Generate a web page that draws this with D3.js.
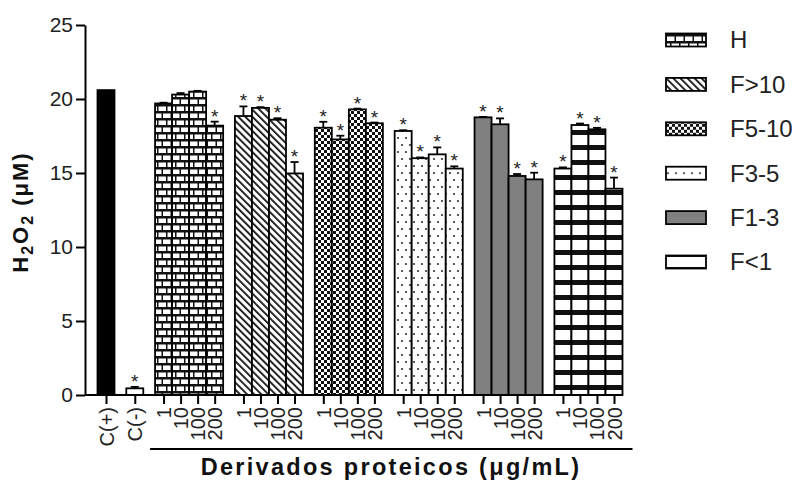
<!DOCTYPE html>
<html>
<head>
<meta charset="utf-8">
<script src="https://cdn.jsdelivr.net/npm/d3@7"></script>
<style>
	body{margin:0;background:#fff;}
	svg{display:block;font-family:"Liberation Sans", Arial, sans-serif;}
</style>
</head>
<body>
<svg id="chart" width="801" height="481"></svg>
<script>
// controls
var controls = ["C(+)", "C(-)"];
var controlValues = [20.6, 0.45];
var controlErrors = [0, 0.1];
var controlStars = [0, 1];

// protein derivatives, one array per fraction (1, 10, 100, 200 ug/mL)
var groups = ["H", "F>10", "F5-10", "F3-5", "F1-3", "F<1"];
var concentrations = ["1", "10", "100", "200"];
var valuesH = [19.7, 20.3, 20.5, 18.2];
var valuesF10 = [18.85, 19.4, 18.6, 14.97];
var valuesF5_10 = [18.06, 17.27, 19.3, 18.36];
var valuesF3_5 = [17.84, 16.0, 16.26, 15.3];
var valuesF1_3 = [18.76, 18.29, 14.8, 14.57];
var valuesF1 = [15.3, 18.24, 17.95, 13.94];
var errorsH = [0.05, 0.1, 0.05, 0.27];
var errorsF10 = [0.65, 0.05, 0.1, 0.77];
var errorsF5_10 = [0.4, 0.25, 0.05, 0.05];
var errorsF3_5 = [0.05, 0.05, 0.47, 0.15];
var errorsF1_3 = [0.03, 0.4, 0.13, 0.45];
var errorsF1 = [0.08, 0.1, 0.1, 0.75];
var starsH = [0, 0, 0, 1];
var starsF10 = [1, 1, 1, 1];
var starsF5_10 = [1, 1, 1, 1];
var starsF3_5 = [1, 1, 1, 1];
var starsF1_3 = [1, 1, 1, 1];
var starsF1 = [1, 1, 1, 1];
var yTicks = [0, 5, 10, 15, 20, 25];

var groupValues = [valuesH, valuesF10, valuesF5_10, valuesF3_5, valuesF1_3, valuesF1];
var groupErrors = [errorsH, errorsF10, errorsF5_10, errorsF3_5, errorsF1_3, errorsF1];
var groupStars = [starsH, starsF10, starsF5_10, starsF3_5, starsF1_3, starsF1];

var svg = d3.select("#chart");
var defs = svg.append("defs");

function pattern(id, w, h){
	var p = defs.append("pattern")
		.attr("id", id)
		.attr("patternUnits", "userSpaceOnUse")
		.attr("width", w)
		.attr("height", h);
	return p;
}

// H: bricks
var pH = pattern("pH", 18, 14);
pH.append("rect").attr("width", 18).attr("height", 14).attr("fill", "#111");
[[1,1.5],[10,1.5],[-3.5,8.5],[5.5,8.5],[14.5,8.5]].forEach(function(b){
	pH.append("rect").attr("x", b[0]).attr("y", b[1]).attr("width", 7.5).attr("height", 4.5).attr("fill", "#fff");
});
// F>10: diagonal lines
var pD = pattern("pD", 5, 10).attr("patternTransform", "rotate(-45)");
pD.append("rect").attr("width", 5).attr("height", 10).attr("fill", "#fff");
pD.append("rect").attr("width", 1.8).attr("height", 10).attr("fill", "#111");
// F5-10: checkerboard
var pC = pattern("pC", 6, 6);
pC.append("rect").attr("width", 6).attr("height", 6).attr("fill", "#fff");
pC.append("rect").attr("width", 3).attr("height", 3).attr("fill", "#111");
pC.append("rect").attr("x", 3).attr("y", 3).attr("width", 3).attr("height", 3).attr("fill", "#111");
// F3-5: dots
var pS = pattern("pS", 8, 14);
pS.append("rect").attr("width", 8).attr("height", 14).attr("fill", "#fff");
pS.append("circle").attr("cx", 2).attr("cy", 5).attr("r", 1.1).attr("fill", "#333");
pS.append("circle").attr("cx", 6).attr("cy", 12).attr("r", 1.1).attr("fill", "#333");
// F<1: horizontal bands
var pB = pattern("pB", 20, 15);
pB.append("rect").attr("width", 20).attr("height", 15).attr("fill", "#fff");
pB.append("rect").attr("y", 10).attr("width", 20).attr("height", 5).attr("fill", "#111");

var groupFills = ["url(#pH)", "url(#pD)", "url(#pC)", "url(#pS)", "#808080", "url(#pB)"];
var controlFills = ["#000", "#fff"];

// flatten into one list of bars
var GAP = 0.69;
var bars = [];
controls.forEach(function(c, i){
	bars.push({label: c, value: controlValues[i], err: controlErrors[i], star: controlStars[i], block: i, fill: controlFills[i]});
});
groups.forEach(function(g, gi){
	concentrations.forEach(function(c, ci){
		bars.push({label: c, value: groupValues[gi][ci], err: groupErrors[gi][ci], star: groupStars[gi][ci], block: 2 + gi, fill: groupFills[gi]});
	});
});
bars.forEach(function(d, i){ d.slot = i + GAP * d.block; });

var BW = 17;
var maxSlot = d3.max(bars, function(d){ return d.slot; });
var x = d3.scaleLinear()
	.domain([0, maxSlot])
	.range([106, 614]);
var y = d3.scaleLinear()
	.domain([0, 25])
	.range([395, 25]);
var axisX = 85;

// bars
svg.append("g").selectAll("rect")
	.data(bars)
	.enter()
	.append("rect")
	.attr("x", function(d){ return x(d.slot) - BW / 2; })
	.attr("y", function(d){ return y(d.value); })
	.attr("width", BW)
	.attr("height", function(d){ return y(0) - y(d.value); })
	.attr("fill", function(d){ return d.fill; })
	.attr("stroke", "#000")
	.attr("stroke-width", 1.8);

// error bars
var errs = svg.append("g").selectAll("g")
	.data(bars.filter(function(d){ return d.err > 0; }))
	.enter()
	.append("g")
	.attr("stroke", "#000")
	.attr("stroke-width", 1.8);
errs.append("line")
	.attr("x1", function(d){ return x(d.slot); })
	.attr("x2", function(d){ return x(d.slot); })
	.attr("y1", function(d){ return y(d.value); })
	.attr("y2", function(d){ return y(d.value + d.err); });
errs.append("line")
	.attr("x1", function(d){ return x(d.slot) - 4; })
	.attr("x2", function(d){ return x(d.slot) + 4; })
	.attr("y1", function(d){ return y(d.value + d.err); })
	.attr("y2", function(d){ return y(d.value + d.err); });

// significance stars
svg.append("g").selectAll("text")
	.data(bars.filter(function(d){ return d.star; }))
	.enter()
	.append("text")
	.attr("x", function(d){ return x(d.slot); })
	.attr("y", function(d){ return y(d.value + d.err) + 1; })
	.attr("text-anchor", "middle")
	.attr("font-size", 19)
	.attr("fill", "#222")
	.text("*");

// y axis
var yAxis = svg.append("g")
	.attr("transform", "translate(" + axisX + ",0)")
	.call(d3.axisLeft(y).tickValues(yTicks).tickSize(9).tickSizeOuter(0).tickPadding(3));
yAxis.select(".domain").attr("stroke-width", 2);
yAxis.selectAll(".tick line").attr("stroke-width", 2);
yAxis.selectAll(".tick text").attr("font-size", 21).attr("fill", "#222").attr("font-family", null);

// x axis
var xo = d3.scaleOrdinal()
	.domain(bars.map(function(d, i){ return i; }))
	.range(bars.map(function(d){ return x(d.slot); }));
var xAxis = svg.append("g")
	.attr("transform", "translate(0," + y(0) + ")")
	.call(d3.axisBottom(xo).tickSize(9).tickSizeOuter(0).tickFormat(function(i){ return bars[i].label; }));
xAxis.select(".domain").remove();
xAxis.selectAll(".tick line").attr("stroke-width", 2);
xAxis.selectAll(".tick text")
	.attr("font-size", 20)
	.attr("font-family", null)
	.attr("fill", "#222")
	.attr("transform", "rotate(-90)")
	.attr("x", -12)
	.attr("y", 0)
	.attr("dy", "0.35em")
	.attr("text-anchor", "end");
svg.append("line")
	.attr("x1", axisX)
	.attr("x2", x(maxSlot) + BW / 2)
	.attr("y1", y(0))
	.attr("y2", y(0))
	.attr("stroke", "#000")
	.attr("stroke-width", 2);

// bracket under derivative labels
var firstGroupSlot = bars[controls.length].slot;
svg.append("line")
	.attr("x1", x(firstGroupSlot) - BW / 2 - 5)
	.attr("x2", x(maxSlot) + BW / 2 + 10)
	.attr("y1", 449)
	.attr("y2", 449)
	.attr("stroke", "#000")
	.attr("stroke-width", 2);

// titles
var yTitle = svg.append("text")
	.attr("transform", "translate(28,212) rotate(-90)")
	.attr("text-anchor", "middle")
	.attr("font-weight", "bold")
	.attr("font-size", 22)
	.attr("letter-spacing", 2)
	.attr("fill", "#111");
yTitle.append("tspan").text("H");
yTitle.append("tspan").attr("font-size", 16).attr("dy", 5).text("2");
yTitle.append("tspan").attr("dy", -5).text("O");
yTitle.append("tspan").attr("font-size", 16).attr("dy", 5).text("2");
yTitle.append("tspan").attr("dy", -5).text(" (\u03bcM)");

svg.append("text")
	.attr("x", 391)
	.attr("y", 475)
	.attr("text-anchor", "middle")
	.attr("font-weight", "bold")
	.attr("font-size", 23.5)
	.attr("letter-spacing", 2.3)
	.attr("fill", "#111")
	.text("Derivados proteicos (\u03bcg/mL)");

// legend
var ly = d3.scalePoint().domain(groups).range([40, 262]);
var legend = svg.append("g").selectAll("g")
	.data(groups)
	.enter()
	.append("g")
	.attr("transform", function(d){ return "translate(666," + (ly(d) - 5) + ")"; });
legend.append("rect")
	.attr("y", -1.5)
	.attr("width", 40)
	.attr("height", 13)
	.attr("fill", function(d, i){ return groupFills[i]; })
	.attr("stroke", "#000")
	.attr("stroke-width", 1.8);
legend.append("text")
	.attr("x", 64)
	.attr("y", 5)
	.attr("dy", "0.35em")
	.attr("font-size", 24)
	.attr("fill", "#222")
	.text(function(d){ return d; });
</script>
</body>
</html>
